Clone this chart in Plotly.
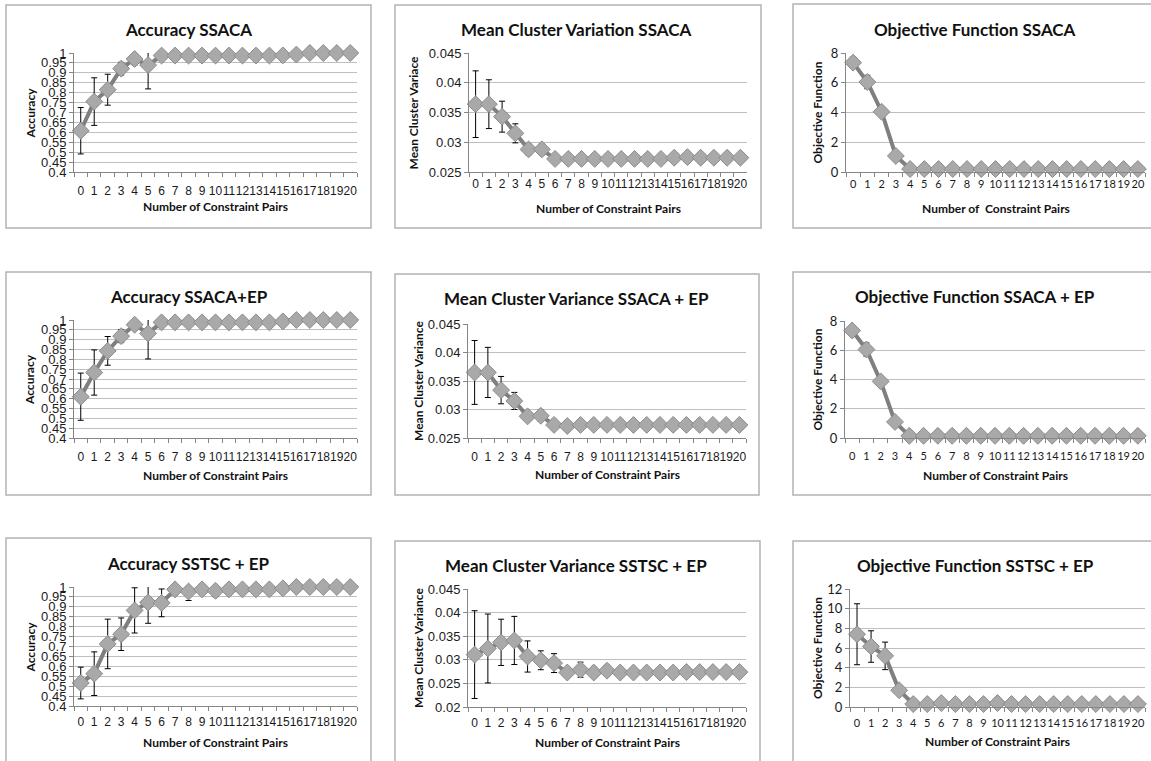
import plotly.graph_objects as go

W, H = 1151, 761

# ---------------- data ----------------
pairs = [str(i) for i in range(21)]

acc_ssaca = [0.608, 0.755, 0.815, 0.921, 0.970, 0.939, 0.987, 0.987, 0.987, 0.987, 0.987,
             0.987, 0.987, 0.987, 0.987, 0.988, 0.992, 1.0, 1.0, 1.0, 1.0]
acc_ssaca_err = [0.117, 0.12, 0.078, 0.032, 0.03, 0.12, 0, 0, 0, 0, 0,
                 0, 0, 0, 0, 0, 0.015, 0, 0, 0, 0]

mcv_ssaca = [0.0364, 0.0364, 0.0343, 0.0315, 0.0288, 0.0288, 0.0272, 0.0272, 0.0272, 0.0272, 0.0272,
             0.0272, 0.0272, 0.0272, 0.0272, 0.0274, 0.0275, 0.0274, 0.0274, 0.0274, 0.0274]
mcv_ssaca_err = [0.0056, 0.0041, 0.0026, 0.0016, 0.0009, 0.0009, 0, 0, 0, 0, 0,
                 0, 0, 0, 0, 0, 0, 0, 0, 0, 0]

obj_ssaca = [7.35, 6.05, 4.05, 1.08, 0.2, 0.2, 0.2, 0.2, 0.2, 0.2, 0.2,
             0.2, 0.2, 0.2, 0.2, 0.2, 0.2, 0.2, 0.2, 0.2, 0.2]
obj_ssaca_err = [0.38, 0.45, 0, 0, 0, 0, 0, 0, 0, 0, 0,
                 0, 0, 0, 0, 0, 0, 0, 0, 0, 0]

acc_ssaca_ep = [0.61, 0.733, 0.843, 0.918, 0.976, 0.932, 0.988, 0.988, 0.988, 0.988, 0.988,
                0.988, 0.988, 0.988, 0.988, 0.993, 1.0, 1.0, 1.0, 1.0, 1.0]
acc_ssaca_ep_err = [0.12, 0.115, 0.073, 0.033, 0.022, 0.13, 0, 0, 0, 0, 0,
                    0, 0, 0, 0, 0, 0, 0, 0, 0, 0]

mcv_ssaca_ep = [0.0365, 0.0365, 0.0334, 0.0315, 0.0288, 0.0289, 0.0273, 0.0271, 0.0273, 0.0273, 0.0273,
                0.0273, 0.0273, 0.0273, 0.0273, 0.0273, 0.0273, 0.0273, 0.0273, 0.0273, 0.0273]
mcv_ssaca_ep_err = [0.0056, 0.0044, 0.0024, 0.0015, 0.0004, 0.001, 0, 0, 0, 0, 0,
                    0, 0, 0, 0, 0, 0, 0, 0, 0, 0]

obj_ssaca_ep = [7.35, 6.05, 3.87, 1.1, 0.15, 0.15, 0.15, 0.15, 0.15, 0.15, 0.15,
                0.15, 0.15, 0.15, 0.15, 0.15, 0.15, 0.15, 0.15, 0.15, 0.15]
obj_ssaca_ep_err = [0.35, 0.45, 0, 0, 0, 0, 0, 0, 0, 0, 0,
                    0, 0, 0, 0, 0, 0, 0, 0, 0, 0]

acc_sstsc_ep = [0.516, 0.563, 0.713, 0.762, 0.882, 0.922, 0.92, 0.988, 0.977, 0.988, 0.981,
                0.988, 0.988, 0.988, 0.988, 0.993, 1.0, 1.0, 1.0, 1.0, 1.0]
acc_sstsc_ep_err = [0.08, 0.11, 0.125, 0.082, 0.114, 0.105, 0.07, 0, 0.045, 0, 0.03,
                    0, 0, 0, 0, 0, 0, 0, 0, 0, 0]

mcv_sstsc_ep = [0.0311, 0.0324, 0.0337, 0.0341, 0.0307, 0.0299, 0.0293, 0.0273, 0.0279, 0.0273, 0.0277,
                0.0273, 0.0273, 0.0273, 0.0273, 0.0273, 0.0274, 0.0274, 0.0274, 0.0274, 0.0274]
mcv_sstsc_ep_err = [0.0093, 0.0073, 0.0049, 0.0051, 0.0033, 0.002, 0.002, 0, 0.0016, 0, 0.0011,
                    0, 0, 0, 0, 0, 0, 0, 0, 0, 0]

obj_sstsc_ep = [7.4, 6.15, 5.2, 1.7, 0.3, 0.3, 0.4, 0.3, 0.3, 0.3, 0.4,
                0.3, 0.3, 0.3, 0.3, 0.3, 0.3, 0.3, 0.3, 0.3, 0.3]
obj_sstsc_ep_err = [3.1, 1.6, 1.4, 0, 0, 0, 0, 0, 0, 0, 0,
                    0, 0, 0, 0, 0, 0, 0, 0, 0, 0]

acc_tick_vals = [0.4, 0.45, 0.5, 0.55, 0.6, 0.65, 0.7, 0.75, 0.8, 0.85, 0.9, 0.95, 1.0]
acc_tick_text = ["0.4", "0.45", "0.5", "0.55", "0.6", "0.65", "0.7", "0.75", "0.8", "0.85", "0.9", "0.95", "1"]
mcv_tick_vals = [0.025, 0.03, 0.035, 0.04, 0.045]
mcv_tick_text = ["0.025", "0.03", "0.035", "0.04", "0.045"]
mcv3_tick_vals = [0.02, 0.025, 0.03, 0.035, 0.04, 0.045]
mcv3_tick_text = ["0.02", "0.025", "0.03", "0.035", "0.04", "0.045"]
obj_tick_vals = [0, 2, 4, 6, 8]
obj_tick_text = ["0", "2", "4", "6", "8"]
obj3_tick_vals = [0, 2, 4, 6, 8, 10, 12]
obj3_tick_text = ["0", "2", "4", "6", "8", "10", "12"]

titles = ["Accuracy SSACA", "Mean Cluster Variation SSACA", "Objective Function SSACA",
          "Accuracy SSACA+EP", "Mean Cluster Variance SSACA + EP", "Objective Function SSACA + EP",
          "Accuracy SSTSC + EP", "Mean Cluster Variance SSTSC + EP", "Objective Function SSTSC + EP"]
y_titles = ["Accuracy", "Mean Cluster Variace", "Objective Function",
            "Accuracy", "Mean Cluster Variance", "Objective Function",
            "Accuracy", "Mean Cluster Variance", "Objective Function"]
x_titles = ["Number of Constraint Pairs", "Number of Constraint Pairs", "Number of  Constraint Pairs",
            "Number of Constraint Pairs", "Number of Constraint Pairs", "Number of Constraint Pairs",
            "Number of Constraint Pairs", "Number of Constraint Pairs", "Number of Constraint Pairs"]

series = [acc_ssaca, mcv_ssaca, obj_ssaca, acc_ssaca_ep, mcv_ssaca_ep, obj_ssaca_ep,
          acc_sstsc_ep, mcv_sstsc_ep, obj_sstsc_ep]
errors = [acc_ssaca_err, mcv_ssaca_err, obj_ssaca_err, acc_ssaca_ep_err, mcv_ssaca_ep_err,
          obj_ssaca_ep_err, acc_sstsc_ep_err, mcv_sstsc_ep_err, obj_sstsc_ep_err]
yticks = [(acc_tick_vals, acc_tick_text), (mcv_tick_vals, mcv_tick_text), (obj_tick_vals, obj_tick_text),
          (acc_tick_vals, acc_tick_text), (mcv_tick_vals, mcv_tick_text), (obj_tick_vals, obj_tick_text),
          (acc_tick_vals, acc_tick_text), (mcv3_tick_vals, mcv3_tick_text), (obj3_tick_vals, obj3_tick_text)]

# ---------------- layout (pixels) ----------------
plot_px = [(74, 357, 53, 172), (469, 747, 53, 172), (846, 1145, 53, 172),
           (74, 357, 320, 438), (468, 746, 324, 438), (845, 1145, 321, 438),
           (74, 357, 587, 706), (468, 746, 589, 707), (850, 1145, 589, 707)]
frame_px = [(6, 371, 5, 228), (395, 761, 5, 228), (793, 1155, 4, 228),
            (6, 371, 272, 495), (395, 759, 274, 495), (793, 1155, 272, 495),
            (6, 371, 538, 770), (395, 760, 541, 770), (793, 1155, 541, 770)]
title_px = [(188, 29), (576, 29), (975, 29),
            (189, 296), (576, 298), (975, 296),
            (188, 563), (576, 565), (975, 565)]
xtitle_y = [207, 208, 208, 475, 474, 475, 742, 742, 741]
ytitle_x = [30, 413, 817, 30, 418, 817, 30, 418, 817]
xlabel_standoff = [8, 1, 2, 8, 8, 8, 5, 5, 6]
yranges = [(0.4, 1.0), (0.025, 0.045), (0, 8), (0.4, 1.0), (0.025, 0.045), (0, 8),
           (0.4, 1.0), (0.02, 0.045), (0, 12)]

AX = '#868686'
GRID = '#bfbfbf'

fig = go.Figure()
layout = dict(width=W, height=H, autosize=False,
              margin=dict(l=0, r=0, t=0, b=0, pad=0, autoexpand=False),
              paper_bgcolor='white', plot_bgcolor='white', showlegend=False)
shapes = []
annotations = []


def px_x(v):
    return v / W


def px_y(v):
    return 1 - v / H


for i in range(9):
    n = '' if i == 0 else str(i + 1)
    x0, x1, yt, yb = plot_px[i]
    is_obj = (i % 3 == 2)
    tick_family = 'Lato' if is_obj else 'Liberation Sans'
    fig.add_trace(go.Scatter(
        x=pairs, y=series[i], xaxis='x' + n, yaxis='y' + n, mode='lines+markers',
        line=dict(color='#7f7f7f', width=4),
        marker=dict(symbol='diamond', size=13, color='#a9a9a9', line=dict(color='#8c8c8c', width=1)),
        error_y=dict(type='data', array=errors[i], visible=True, color='black', thickness=1, width=3),
        cliponaxis=False, hoverinfo='x+y'))
    layout['xaxis' + n] = dict(
        domain=[px_x(x0), px_x(x1)], anchor='y' + n, type='category',
        categoryorder='array', categoryarray=pairs, range=[-0.5, 20.5],
        tickmode='array', tickvals=pairs, ticktext=pairs, tickangle=0,
        tickson='boundaries', ticks='outside', ticklen=4, tickcolor=AX,
        showline=True, linecolor=AX, linewidth=1, showgrid=False, zeroline=False,
        tickfont=dict(family=tick_family, size=11 if is_obj else 12, color='#1a1a1a'),
        ticklabelstandoff=xlabel_standoff[i], fixedrange=True, automargin=False)
    tv, tt = yticks[i]
    layout['yaxis' + n] = dict(
        domain=[px_y(yb), px_y(yt)], anchor='x' + n, range=list(yranges[i]),
        tickmode='array', tickvals=tv, ticktext=tt, ticks='outside', ticklen=4, tickcolor=AX,
        showline=True, linecolor=AX, linewidth=1, showgrid=True, gridcolor=GRID, gridwidth=1,
        zeroline=False, tickfont=dict(family=tick_family, size=13, color='#1a1a1a'),
        ticklabelstandoff=0, fixedrange=True, automargin=False)
    fx0, fx1, fy0, fy1 = frame_px[i]
    shapes.append(dict(type='rect', xref='paper', yref='paper',
                       x0=px_x(fx0), x1=px_x(fx1), y0=px_y(fy1), y1=px_y(fy0),
                       line=dict(color='#b3b3b3', width=1.5), layer='below'))
    tx, ty = title_px[i]
    annotations.append(dict(text='<b>' + titles[i] + '</b>', xref='paper', yref='paper',
                            x=px_x(tx), y=px_y(ty), xanchor='center', yanchor='middle',
                            showarrow=False, font=dict(family='Lato', size=17, color='#111')))
    annotations.append(dict(text='<b>' + x_titles[i] + '</b>', xref='paper', yref='paper',
                            x=px_x((x0 + x1) / 2), y=px_y(xtitle_y[i]), xanchor='center',
                            yanchor='middle', showarrow=False,
                            font=dict(family='Lato', size=12, color='#111')))
    annotations.append(dict(text='<b>' + y_titles[i] + '</b>', xref='paper', yref='paper',
                            x=px_x(ytitle_x[i]), y=px_y((yt + yb) / 2), xanchor='center',
                            yanchor='middle', textangle=-90, showarrow=False,
                            font=dict(family='Lato', size=12, color='#111')))

layout['shapes'] = shapes
layout['annotations'] = annotations
fig.update_layout(**layout)
fig.write_html("out.html", config={'displayModeBar': False},
               post_script="document.documentElement.style.overflow='hidden';"
                           "document.body.style.margin='0px';document.body.style.overflow='hidden';")
